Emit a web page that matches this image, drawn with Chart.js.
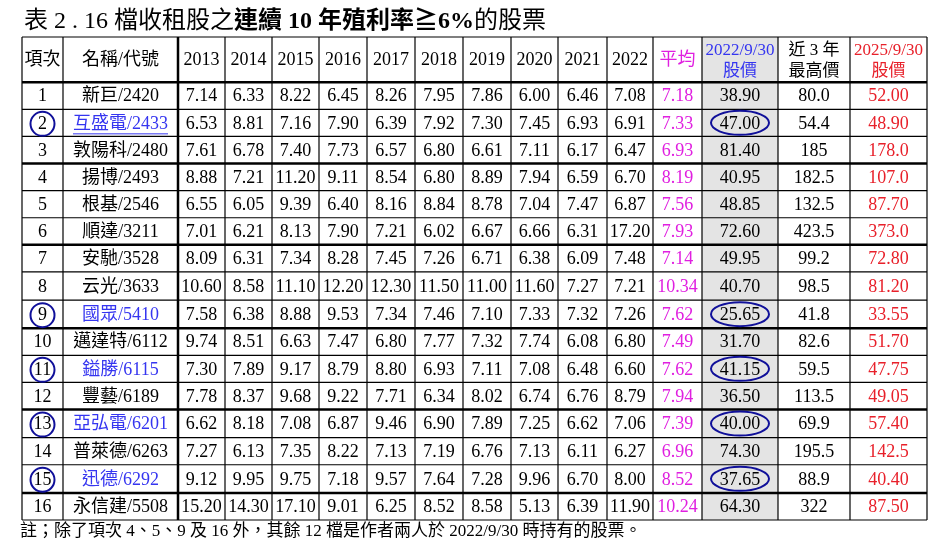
<!DOCTYPE html>
<html><head><meta charset="utf-8">
<script src="https://cdn.jsdelivr.net/npm/chart.js@4"></script>
<style>html,body{margin:0;padding:0;background:#fff}#wrap{width:950px;height:553px;position:relative}</style>
</head><body><div id="wrap"><canvas id="c" width="950" height="553"></canvas></div>
<script>
const titleParts = [["表 2 . 16 檔收租股之", false], ["連續 10 年殖利率≧6%", true], ["的股票", false]];
const footnote = "註；除了項次 4、5、9 及 16 外，其餘 12 檔是作者兩人於 2022/9/30 時持有的股票。";
const headers = ["項次", "名稱/代號", "2013", "2014", "2015", "2016", "2017", "2018", "2019", "2020", "2021", "2022", "平均", "2022/9/30\n股價", "近 3 年\n最高價", "2025/9/30\n股價"];
const items = ["1","2","3","4","5","6","7","8","9","10","11","12","13","14","15","16"];
const names = ["新巨/2420","互盛電/2433","敦陽科/2480","揚博/2493","根基/2546","順達/3211","安馳/3528","云光/3633","國眾/5410","邁達特/6112","鎰勝/6115","豐藝/6189","亞弘電/6201","普萊德/6263","迅德/6292","永信建/5508"];
const yields = [
 ["7.14","6.33","8.22","6.45","8.26","7.95","7.86","6.00","6.46","7.08"],
 ["6.53","8.81","7.16","7.90","6.39","7.92","7.30","7.45","6.93","6.91"],
 ["7.61","6.78","7.40","7.73","6.57","6.80","6.61","7.11","6.17","6.47"],
 ["8.88","7.21","11.20","9.11","8.54","6.80","8.89","7.94","6.59","6.70"],
 ["6.55","6.05","9.39","6.40","8.16","8.84","8.78","7.04","7.47","6.87"],
 ["7.01","6.21","8.13","7.90","7.21","6.02","6.67","6.66","6.31","17.20"],
 ["8.09","6.31","7.34","8.28","7.45","7.26","6.71","6.38","6.09","7.48"],
 ["10.60","8.58","11.10","12.20","12.30","11.50","11.00","11.60","7.27","7.21"],
 ["7.58","6.38","8.88","9.53","7.34","7.46","7.10","7.33","7.32","7.26"],
 ["9.74","8.51","6.63","7.47","6.80","7.77","7.32","7.74","6.08","6.80"],
 ["7.30","7.89","9.17","8.79","8.80","6.93","7.11","7.08","6.48","6.60"],
 ["7.78","8.37","9.68","9.22","7.71","6.34","8.02","6.74","6.76","8.79"],
 ["6.62","8.18","7.08","6.87","9.46","6.90","7.89","7.25","6.62","7.06"],
 ["7.27","6.13","7.35","8.22","7.13","7.19","6.76","7.13","6.11","6.27"],
 ["9.12","9.95","9.75","7.18","9.57","7.64","7.28","9.96","6.70","8.00"],
 ["15.20","14.30","17.10","9.01","6.25","8.52","8.58","5.13","6.39","11.90"]];
const averages = ["7.18","7.33","6.93","8.19","7.56","7.93","7.14","10.34","7.62","7.49","7.62","7.94","7.39","6.96","8.52","10.24"];
const price2022 = ["38.90","47.00","81.40","40.95","48.85","72.60","49.95","40.70","25.65","31.70","41.15","36.50","40.00","74.30","37.65","64.30"];
const high3y = ["80.0","54.4","185","182.5","132.5","423.5","99.2","98.5","41.8","82.6","59.5","113.5","69.9","195.5","88.9","322"];
const price2025 = ["52.00","48.90","178.0","107.0","87.70","373.0","72.80","81.20","33.55","51.70","47.75","49.05","57.40","142.5","40.40","87.50"];
const heldItems = ["2","9","11","13","15"];

// layout (pixel-unit scale values)
const colW = [41,115,47,47,47,48,48,48,48,47,49,46,49,76,72,77];
const rowH = [45,27,27,27,27,27,27,27,28,28,27,27,27,28,27,28,27];
const thickRows = [0,3,6,9,12,15];
const colEdges=[0]; colW.forEach(w=>colEdges.push(colEdges[colEdges.length-1]+w));
const rowEdges=[0]; rowH.forEach(h=>rowEdges.push(rowEdges[rowEdges.length-1]+h));

const SERIF = '"Liberation Serif","Noto Sans CJK TC",serif';
const BLUE='#3535f0', DBLUE='#10109a', MAG='#e020e0', RED='#e8202a';

const tablePlugin = {
 id:'table',
 afterDraw(chart){
  const ctx=chart.ctx, X=chart.scales.x, Y=chart.scales.y;
  const px=v=>X.getPixelForValue(v), py=v=>Y.getPixelForValue(v);
  ctx.save();
  ctx.fillStyle='#e4e4e4';
  ctx.fillRect(px(colEdges[13]),py(rowEdges[0]),px(colEdges[14])-px(colEdges[13]),py(rowEdges[17])-py(rowEdges[0]));
  ctx.strokeStyle='#000';
  for(let r=0;r<=17;r++){ctx.lineWidth=(r===0||thickRows.includes(r-1))&&r>0&&r<17?2.5:1.2;
   ctx.beginPath();ctx.moveTo(px(0),py(rowEdges[r]));ctx.lineTo(px(colEdges[16]),py(rowEdges[r]));ctx.stroke();}
  for(let c=0;c<=16;c++){ctx.lineWidth=c===2?2.5:1.2;
   ctx.beginPath();ctx.moveTo(px(colEdges[c]),py(0));ctx.lineTo(px(colEdges[c]),py(rowEdges[17]));ctx.stroke();}
  ctx.textAlign='center';ctx.textBaseline='middle';
  const cx=c=>(px(colEdges[c])+px(colEdges[c+1]))/2, cy=r=>(py(rowEdges[r])+py(rowEdges[r+1]))/2+1;
  headers.forEach((h,c)=>{
   ctx.fillStyle=c===12?MAG:c===13?BLUE:c===15?RED:'#000';
   ctx.font='18px '+SERIF;
   const lines=h.split('\n');
   if(lines.length===1) ctx.fillText(h,cx(c),cy(0));
   else {ctx.font='17px '+SERIF; ctx.fillText(lines[0],cx(c),cy(0)-10); ctx.fillText(lines[1],cx(c),cy(0)+11);}
  });
  items.forEach((it,i)=>{
   const r=i+1, held=heldItems.includes(it);
   const row=[it,names[i],...yields[i],averages[i],price2022[i],high3y[i],price2025[i]];
   row.forEach((v,c)=>{
    ctx.fillStyle=c===12?MAG:c===15?RED:(c===1&&held)?BLUE:'#000';
    ctx.font='18px '+SERIF;
    ctx.fillText(v,cx(c),cy(r));
   });
   if(held){
    ctx.strokeStyle=DBLUE;ctx.lineWidth=2;
    ctx.beginPath();ctx.arc(cx(0),cy(r),12,0,Math.PI*2);ctx.stroke();
    ctx.beginPath();ctx.ellipse(cx(13),cy(r)-1,29,12,0,0,Math.PI*2);ctx.stroke();
    if(it==='2'){ctx.strokeStyle=BLUE;ctx.lineWidth=1;const w=ctx.measureText(names[i]).width;
     ctx.beginPath();ctx.moveTo(cx(1)-w/2,cy(r)+10);ctx.lineTo(cx(1)+w/2,cy(r)+10);ctx.stroke();}
   }
  });
  ctx.textAlign='left';ctx.textBaseline='alphabetic';ctx.fillStyle='#000';
  let x=px(0)+2;
  titleParts.forEach(([t,b])=>{ctx.font=(b?'bold ':'')+'24px '+SERIF;ctx.fillText(t,x,py(0)-9);x+=ctx.measureText(t).width;});
  ctx.font='17px '+SERIF;ctx.fillText(footnote,px(0)-2,py(rowEdges[17])+16);
  ctx.restore();
 }
};

new Chart(document.getElementById('c'),{
 type:'scatter',
 data:{datasets:[{data:[],pointRadius:0}]},
 options:{responsive:false,animation:false,
  layout:{padding:{left:22,right:23,top:37,bottom:33}},
  plugins:{legend:{display:false},tooltip:{enabled:false}},
  scales:{x:{type:'linear',min:0,max:colEdges[16],display:false},
          y:{type:'linear',min:0,max:rowEdges[17],reverse:true,display:false}}},
 plugins:[tablePlugin]
});
</script></body></html>
